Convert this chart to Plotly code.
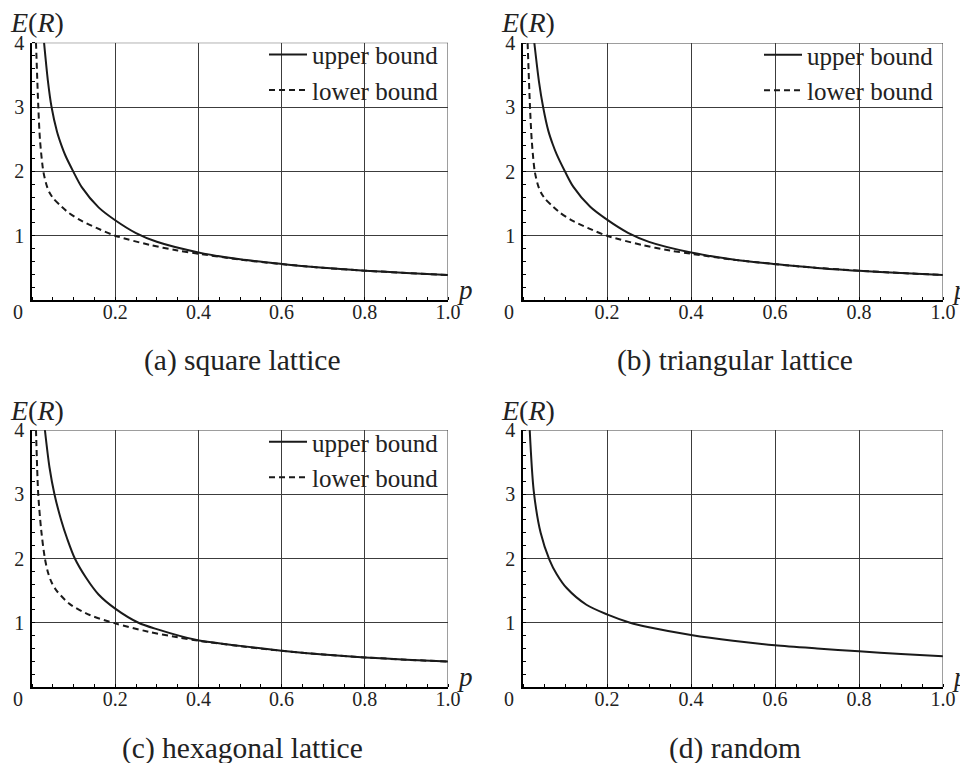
import plotly.graph_objects as go

# ---------------- data ----------------
x_tick_vals = [0.2, 0.4, 0.6, 0.8, 1.0]
x_tick_text = ["0.2", "0.4", "0.6", "0.8", "1.0"]
y_tick_vals = [1, 2, 3, 4]
y_tick_text = ["1", "2", "3", "4"]

# (a) square lattice
p_a_upper = [0.029, 0.038, 0.047, 0.06, 0.071, 0.08, 0.099, 0.12, 0.16, 0.2, 0.25, 0.3, 0.4, 0.5, 0.6, 0.7, 0.8, 0.9, 1.0]
E_a_upper = [4.0, 3.42, 3.0, 2.62, 2.40, 2.25, 2.0, 1.75, 1.44, 1.24, 1.04, 0.905, 0.74, 0.632, 0.56, 0.50, 0.456, 0.42, 0.389]
p_a_lower = [0.0096, 0.0152, 0.0192, 0.0272, 0.0353, 0.042, 0.0513, 0.0713, 0.0873, 0.115, 0.155, 0.2, 0.284, 0.35, 0.4, 0.5, 0.6, 0.7, 0.8, 0.9, 1.0]
E_a_lower = [4.0, 3.0, 2.49, 2.0, 1.78, 1.67, 1.58, 1.45, 1.36, 1.244, 1.12, 1.0, 0.855, 0.77, 0.72, 0.628, 0.558, 0.50, 0.456, 0.42, 0.389]

# (b) triangular lattice
p_b_upper = [0.027, 0.038, 0.048, 0.06, 0.071, 0.08, 0.1, 0.12, 0.16, 0.2, 0.25, 0.3, 0.4, 0.5, 0.6, 0.7, 0.8, 0.9, 1.0]
E_b_upper = [4.0, 3.4, 3.0, 2.64, 2.42, 2.27, 2.0, 1.76, 1.45, 1.25, 1.045, 0.905, 0.74, 0.632, 0.56, 0.50, 0.456, 0.42, 0.389]
p_b_lower = [0.011, 0.0167, 0.021, 0.028, 0.036, 0.043, 0.052, 0.072, 0.088, 0.115, 0.155, 0.2, 0.284, 0.35, 0.4, 0.5, 0.6, 0.7, 0.8, 0.9, 1.0]
E_b_lower = [4.0, 3.0, 2.47, 2.0, 1.78, 1.67, 1.58, 1.45, 1.36, 1.245, 1.12, 1.0, 0.855, 0.77, 0.72, 0.628, 0.558, 0.50, 0.456, 0.42, 0.389]

# (c) hexagonal lattice
p_c_upper = [0.031, 0.042, 0.054, 0.07, 0.085, 0.103, 0.13, 0.16, 0.2, 0.256, 0.3, 0.396, 0.5, 0.6, 0.7, 0.8, 0.9, 1.0]
E_c_upper = [4.0, 3.42, 3.0, 2.6, 2.3, 2.0, 1.7, 1.44, 1.22, 1.0, 0.9, 0.73, 0.64, 0.565, 0.505, 0.46, 0.425, 0.395]
p_c_lower = [0.0096, 0.015, 0.022, 0.031, 0.039, 0.047, 0.059, 0.091, 0.139, 0.2, 0.28, 0.35, 0.4, 0.5, 0.6, 0.7, 0.8, 0.9, 1.0]
E_c_lower = [4.0, 3.0, 2.45, 2.0, 1.77, 1.63, 1.5, 1.29, 1.12, 0.99, 0.86, 0.775, 0.72, 0.635, 0.563, 0.505, 0.46, 0.425, 0.395]

# (d) random
p_d = [0.016, 0.0256, 0.042, 0.063, 0.08, 0.104, 0.151, 0.2, 0.255, 0.3, 0.4, 0.5, 0.6, 0.7, 0.8, 0.9, 1.0]
E_d = [4.0, 3.05, 2.4, 1.98, 1.76, 1.54, 1.28, 1.13, 1.0, 0.93, 0.81, 0.72, 0.65, 0.60, 0.555, 0.515, 0.48]

captions = ["(a) square lattice", "(b) triangular lattice", "(c) hexagonal lattice", "(d) random"]
legend_names = ["upper bound", "lower bound"]

# ---------------- styling ----------------
SERIF = "Liberation Serif"
W, H = 960, 763
INK = "#1a1a1a"
GRID = "#3c3c3c"
TEXT = "#222"


def px_x(v):
    return v / W


def px_y(v):
    return 1 - v / H


# panel pixel boxes: (left, right, top, bottom)
boxes = [(32, 448, 42.7, 300), (523, 943, 43, 300), (32, 448, 430, 687), (523, 943, 430, 687)]

fig = go.Figure()

solid = dict(color=INK, width=2, shape="spline", smoothing=0.8)
dashed = dict(color=INK, width=2, dash="6px,4px", shape="spline", smoothing=0.8)

fig.add_trace(go.Scatter(x=p_a_upper, y=E_a_upper, mode="lines", line=solid,
                         name=legend_names[0], xaxis="x", yaxis="y", legend="legend"))
fig.add_trace(go.Scatter(x=p_a_lower, y=E_a_lower, mode="lines", line=dashed,
                         name=legend_names[1], xaxis="x", yaxis="y", legend="legend"))
fig.add_trace(go.Scatter(x=p_b_upper, y=E_b_upper, mode="lines", line=solid,
                         name=legend_names[0], xaxis="x2", yaxis="y2", legend="legend2"))
fig.add_trace(go.Scatter(x=p_b_lower, y=E_b_lower, mode="lines", line=dashed,
                         name=legend_names[1], xaxis="x2", yaxis="y2", legend="legend2"))
fig.add_trace(go.Scatter(x=p_c_upper, y=E_c_upper, mode="lines", line=solid,
                         name=legend_names[0], xaxis="x3", yaxis="y3", legend="legend3"))
fig.add_trace(go.Scatter(x=p_c_lower, y=E_c_lower, mode="lines", line=dashed,
                         name=legend_names[1], xaxis="x3", yaxis="y3", legend="legend3"))
fig.add_trace(go.Scatter(x=p_d, y=E_d, mode="lines", line=solid,
                         showlegend=False, xaxis="x4", yaxis="y4"))

tickfont = dict(family=SERIF, size=20, color=TEXT)


def xax(box, anchor):
    l, r, t, b = box
    return dict(domain=[px_x(l), px_x(r)], anchor=anchor, range=[0, 1], automargin=False,
                tickmode="array", tickvals=x_tick_vals, ticktext=x_tick_text,
                showgrid=True, gridcolor=GRID, gridwidth=1,
                showline=True, linecolor="black", linewidth=1.5,
                ticks="", zeroline=False, tickfont=tickfont, fixedrange=True,
                ticklabelstandoff=-7,
                minor=dict(tick0=0, dtick=0.05, ticks="inside", ticklen=3, tickwidth=1,
                           tickcolor="black", showgrid=False))


def yax(box, anchor):
    l, r, t, b = box
    return dict(domain=[px_y(b), px_y(t)], anchor=anchor, range=[0, 4], automargin=False,
                tickmode="array", tickvals=y_tick_vals, ticktext=y_tick_text,
                showgrid=True, gridcolor=GRID, gridwidth=1,
                showline=True, linecolor="black", linewidth=1.5,
                ticks="", zeroline=False, tickfont=tickfont, fixedrange=True,
                ticklabelstandoff=2,
                minor=dict(tick0=0, dtick=0.2, ticks="inside", ticklen=3, tickwidth=1,
                           tickcolor="black", showgrid=False))


def legend_at(box):
    l, r, t, b = box
    return dict(x=px_x(r - 4), xanchor="right", y=px_y(t - 11), yanchor="top",
                bgcolor="rgba(0,0,0,0)", borderwidth=0,
                font=dict(family=SERIF, size=25, color=TEXT),
                tracegroupgap=0, itemwidth=38)


annotations = []
shapes = []
suffixes = ["", "2", "3", "4"]
for i, box in enumerate(boxes):
    l, r, t, b = box
    s = suffixes[i]
    xr, yr = "x" + s, "y" + s
    # top and right frame lines
    shapes.append(dict(type="line", xref=xr, yref=yr, x0=0, x1=1, y0=4, y1=4,
                       line=dict(color=GRID, width=1), layer="above"))
    shapes.append(dict(type="line", xref=xr, yref=yr, x0=1, x1=1, y0=0, y1=4,
                       line=dict(color=GRID, width=1), layer="above"))
    # E(R) axis title
    annotations.append(dict(text="<i>E</i>(<i>R</i>)", xref="paper", yref="paper",
                            x=px_x(l + 5), y=px_y(t - 20), xanchor="center", yanchor="middle",
                            showarrow=False, font=dict(family=SERIF, size=28, color=TEXT)))
    # p axis title
    annotations.append(dict(text="<i>p</i>", xref=xr, yref=yr, x=1, y=0,
                            xanchor="left", yanchor="middle", xshift=7, yshift=10,
                            showarrow=False, font=dict(family=SERIF, size=27, color=TEXT)))
    # origin label
    annotations.append(dict(text="0", xref=xr, yref=yr, x=0, y=0,
                            xanchor="center", yanchor="top", xshift=-14, yshift=1,
                            showarrow=False, font=tickfont))
    # caption
    annotations.append(dict(text=captions[i], xref="paper", yref="paper",
                            x=px_x((l + r) / 2 + 2), y=px_y(b + 61), xanchor="center", yanchor="middle",
                            showarrow=False, font=dict(family=SERIF, size=29.5, color=TEXT)))

fig.update_layout(
    width=W, height=H,
    margin=dict(l=0, r=0, t=0, b=0, autoexpand=False),
    paper_bgcolor="white", plot_bgcolor="white",
    font=dict(family=SERIF, color=TEXT),
    showlegend=True,
    xaxis=xax(boxes[0], "y"), yaxis=yax(boxes[0], "x"),
    xaxis2=xax(boxes[1], "y2"), yaxis2=yax(boxes[1], "x2"),
    xaxis3=xax(boxes[2], "y3"), yaxis3=yax(boxes[2], "x3"),
    xaxis4=xax(boxes[3], "y4"), yaxis4=yax(boxes[3], "x4"),
    legend=legend_at(boxes[0]), legend2=legend_at(boxes[1]), legend3=legend_at(boxes[2]),
    annotations=annotations, shapes=shapes,
)

fig.write_html("out.html", config={"displayModeBar": False},
               post_script="document.body.style.margin='0px';document.body.style.padding='0px';")
